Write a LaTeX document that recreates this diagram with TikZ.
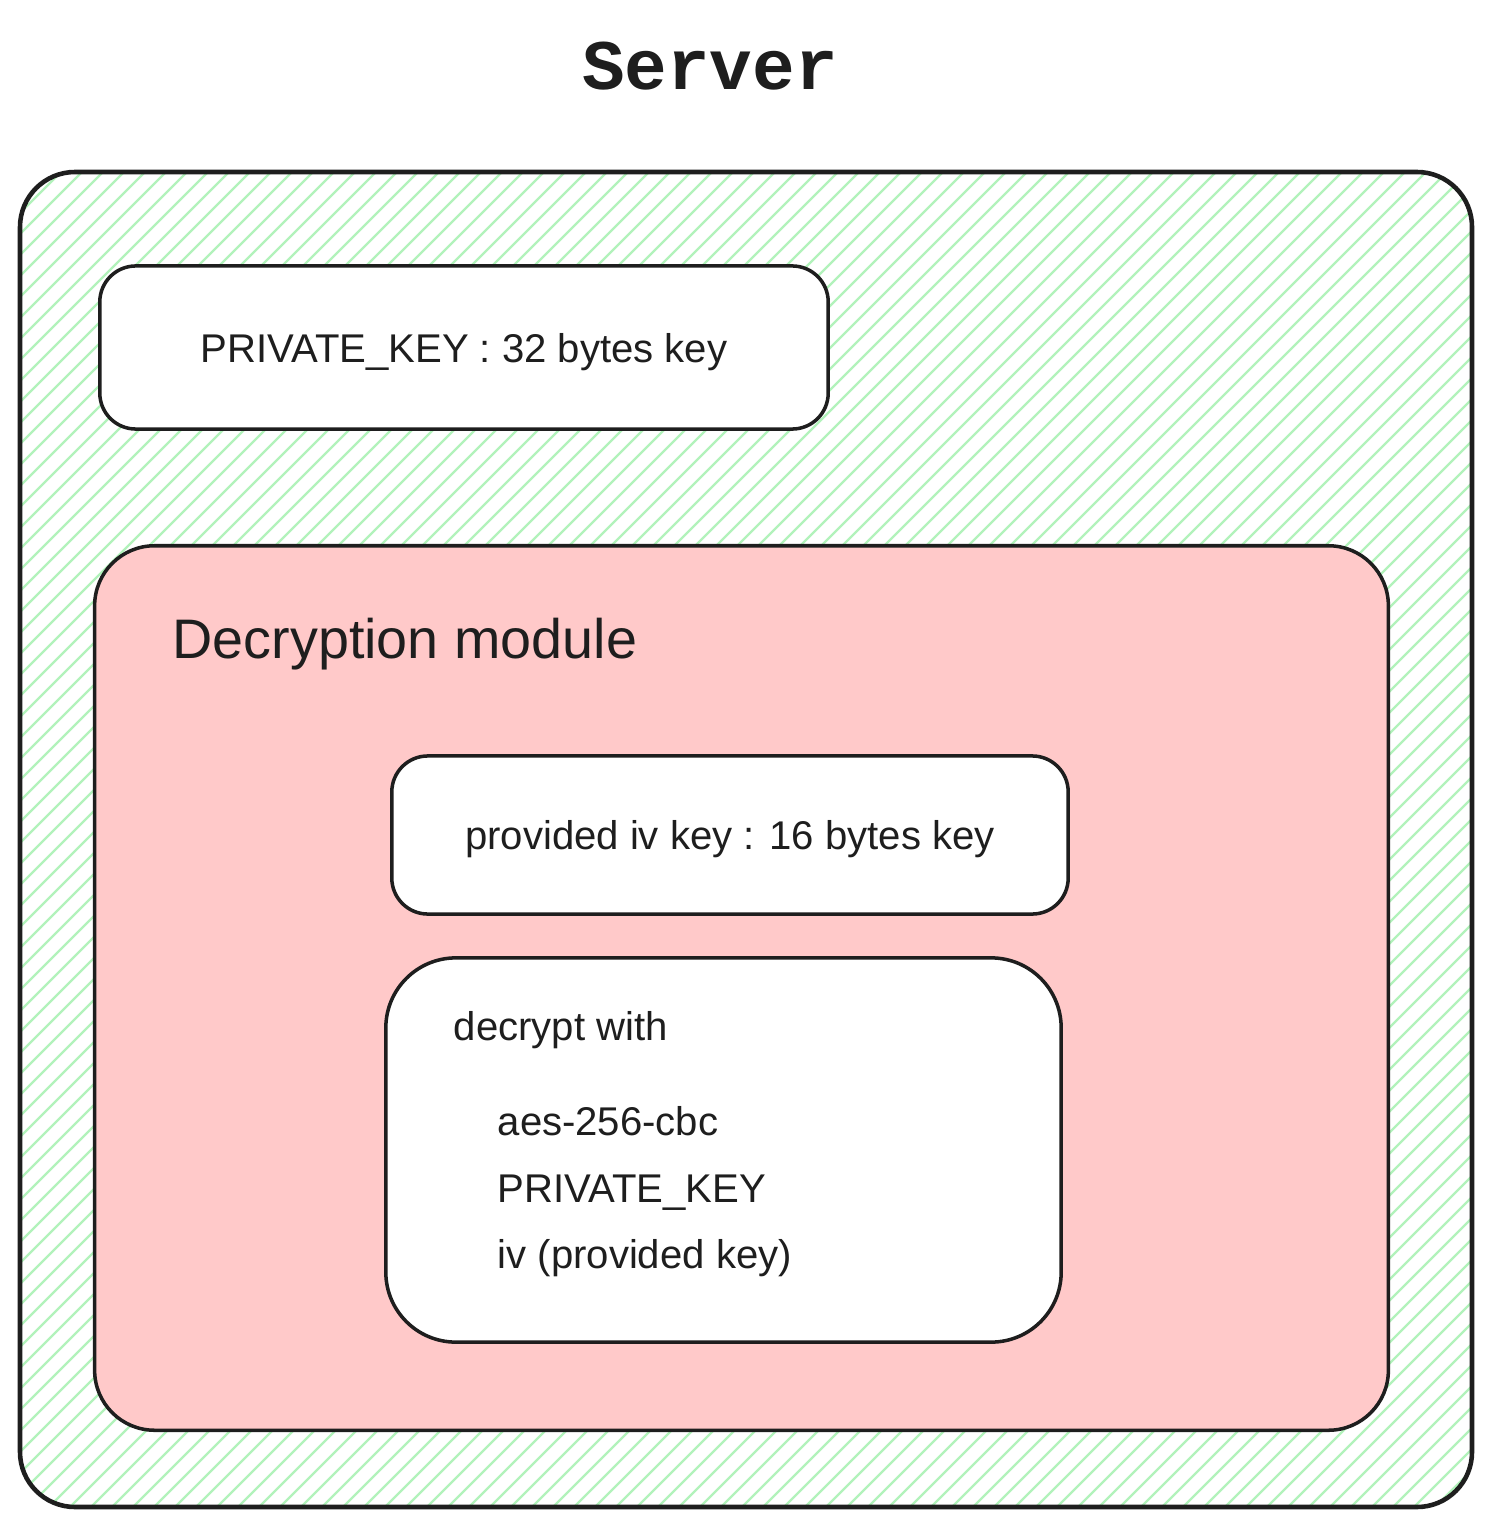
\documentclass[tikz,border=0pt]{standalone}
\usepackage{fontspec}
\setmainfont{Liberation Sans}
\setmonofont{Liberation Mono}
\usepackage{xcolor}

\definecolor{ink}{HTML}{1E1E1E}
\definecolor{hatchgreen}{HTML}{B2F2BB}
\definecolor{modulepink}{HTML}{FFC9C9}

\tikzset{
  keybox/.style={draw=ink, line width=1pt, fill=white, rounded corners=0.36cm, inner sep=0pt,
    text=ink, text height=11pt, text depth=2.5pt, font=\fontsize{11.4}{13}\selectfont},
  modulebox/.style={draw=ink, line width=1pt, fill=modulepink, rounded corners=0.6cm, inner sep=0pt},
  txt/.style={text=ink, inner sep=0pt, anchor=base west, font=\fontsize{11.4}{13}\selectfont}
}

\begin{document}
\begin{tikzpicture}[x=0.01cm, y=-0.01cm]
  \useasboundingbox (0,0) rectangle (1492,1528);

  \node[text=ink, anchor=base, font=\ttfamily\bfseries\fontsize{20.2}{24}\selectfont] (title) at (710,90) {Server};

  % server area, hatched
  \begin{scope}
    \clip[rounded corners=0.55cm] (20,172) rectangle (1472,1507);
    \foreach \x in {-1340,-1319,...,1480}
      \draw[hatchgreen, line width=0.65pt] (\x,1510) -- ++(1340,-1340);
  \end{scope}
  \draw[ink, line width=1.3pt, rounded corners=0.55cm] (20,172) rectangle (1472,1507);

  \node[keybox, minimum width=7.28cm, minimum height=1.63cm] (privkey) at (464,347.5) {PRIVATE\_KEY : 32 bytes key};

  \node[modulebox, minimum width=12.93cm, minimum height=8.84cm] (module) at (741.5,988) {};
  \node[txt, font=\fontsize{15.84}{18}\selectfont] (modtitle) at (172,658) {Decryption module};

  \node[keybox, minimum width=6.76cm, minimum height=1.58cm] (ivkey) at (730,835) {provided iv key : 16 bytes key};

  \node[keybox, rounded corners=0.7cm, minimum width=6.75cm, minimum height=3.84cm] (decrypt) at (723.5,1150) {};
  \node[txt] (with) at (453,1040) {decrypt with};
  \node[txt] (algo) at (497,1135) {aes-256-cbc};
  \node[txt] (usekey) at (497,1202) {PRIVATE\_KEY};
  \node[txt] (useiv) at (497,1268) {iv (provided key)};

\end{tikzpicture}
\end{document}
